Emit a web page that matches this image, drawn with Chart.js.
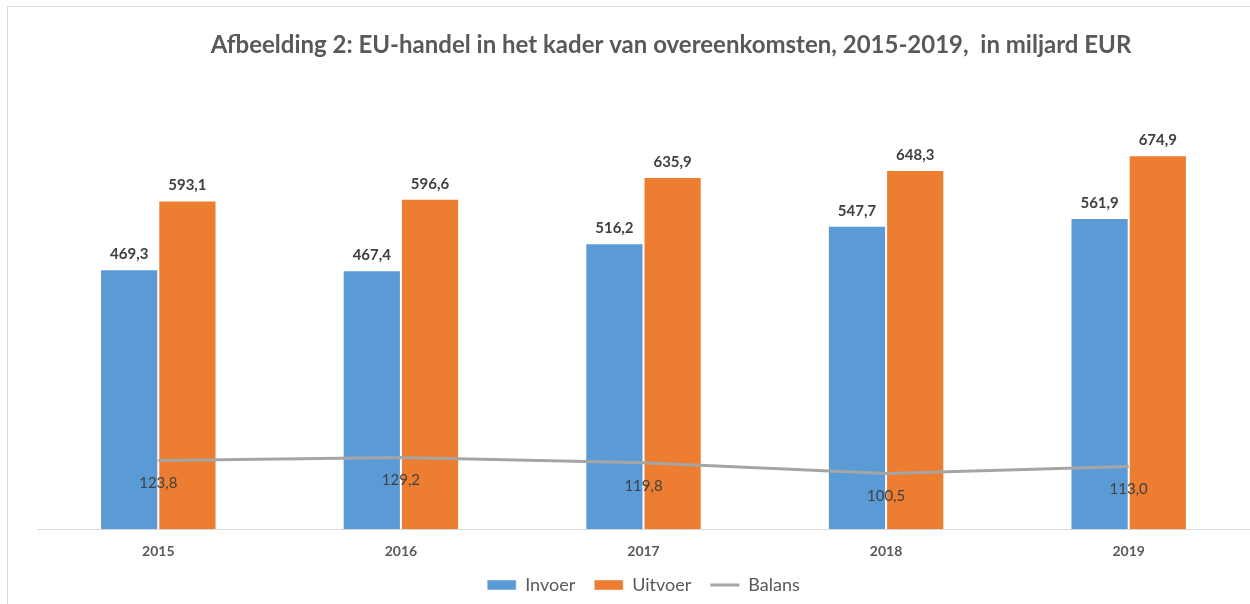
<!DOCTYPE html>
<html>
<head>
<meta charset="utf-8">
<script src="https://cdn.jsdelivr.net/npm/chart.js@4.4.0/dist/chart.umd.min.js"></script>
<style>
    html, body { margin: 0; padding: 0; background: #fff; }
    #wrap { position: relative; width: 1250px; height: 604px; }
    #frame { position: absolute; left: 7px; top: 6px; right: -2px; bottom: -2px; border: 1px solid #d9d9d9; pointer-events: none; }
</style>
</head>
<body>
<div id="wrap">
    <canvas id="chart" width="1250" height="604"></canvas>
    <div id="frame"></div>
</div>
<script>
const titleText = 'Afbeelding 2: EU-handel in het kader van overeenkomsten, 2015-2019,  in miljard EUR';
const years = ['2015', '2016', '2017', '2018', '2019'];
const invoer = [469.3, 467.4, 516.2, 547.7, 561.9];
const uitvoer = [593.1, 596.6, 635.9, 648.3, 674.9];
const balans = [123.8, 129.2, 119.8, 100.5, 113.0];

const fmt = v => v.toFixed(1).replace('.', ',');

// title drawn by hand so it can sit off-centre like the original
const titlePlugin = {
    id: 'titleText',
    afterDraw(chart) {
        const ctx = chart.ctx;
        ctx.save();
        ctx.font = 'bold 24px Lato';
        ctx.fillStyle = '#595959';
        ctx.textAlign = 'center';
        ctx.textBaseline = 'middle';
        ctx.fillText(titleText, 671, 45);
        ctx.restore();
    }
};

// value labels: bold above bars, regular under the line
const valueLabels = {
    id: 'valueLabels',
    afterDatasetsDraw(chart) {
        const ctx = chart.ctx;
        ctx.save();
        ctx.textAlign = 'center';
        ctx.textBaseline = 'middle';
        ctx.fillStyle = '#404040';
        chart.data.datasets.forEach((ds, i) => {
            const meta = chart.getDatasetMeta(i);
            meta.data.forEach((el, j) => {
                if (ds.type === 'line') {
                    ctx.font = '15px Lato';
                    ctx.fillText(fmt(ds.data[j]), el.x, el.y + 23);
                } else {
                    ctx.font = 'bold 15px Lato';
                    ctx.fillText(fmt(ds.data[j]), el.x, el.y - 15);
                }
            });
        });
        ctx.restore();
    }
};

new Chart(document.getElementById('chart'), {
    data: {
        labels: years,
        datasets: [
            {
                type: 'bar',
                label: 'Invoer',
                data: invoer,
                backgroundColor: '#5b9bd5',
                borderColor: 'rgba(255,255,255,0.45)',
                borderWidth: 1,
                pointStyle: 'rect',
                order: 2,
            },
            {
                type: 'bar',
                label: 'Uitvoer',
                data: uitvoer,
                backgroundColor: '#ed7d31',
                borderColor: 'rgba(255,255,255,0.45)',
                borderWidth: 1,
                pointStyle: 'rect',
                order: 2,
            },
            {
                type: 'line',
                label: 'Balans',
                data: balans,
                borderColor: '#a5a5a5',
                backgroundColor: '#a5a5a5',
                borderWidth: 3,
                pointRadius: 0,
                pointStyle: 'line',
                tension: 0,
                order: 1,
            }
        ]
    },
    options: {
        responsive: false,
        animation: false,
        layout: { padding: { left: 37, right: 0, top: 86, bottom: 0 } },
        datasets: { bar: { barPercentage: 1, categoryPercentage: 0.48 } },
        plugins: {
            title: { display: false },
            tooltip: { enabled: false },
            legend: {
                position: 'bottom',
                labels: {
                    usePointStyle: true,
                    pointStyleWidth: 29,
                    boxWidth: 29,
                    boxHeight: 10,
                    padding: 19,
                    color: '#595959',
                    font: { family: 'Lato', size: 18 },
                    sort: (a, b) => a.datasetIndex - b.datasetIndex
                }
            }
        },
        scales: {
            x: {
                grid: { display: false },
                border: { color: '#d9d9d9', width: 1 },
                ticks: { color: '#595959', font: { family: 'Lato', size: 14, weight: 'bold' }, padding: 6 },
                afterFit(scale) { scale.height -= 9; }
            },
            y: {
                display: false,
                min: 0,
                max: 800
            }
        }
    },
    plugins: [titlePlugin, valueLabels]
});
</script>
</body>
</html>
